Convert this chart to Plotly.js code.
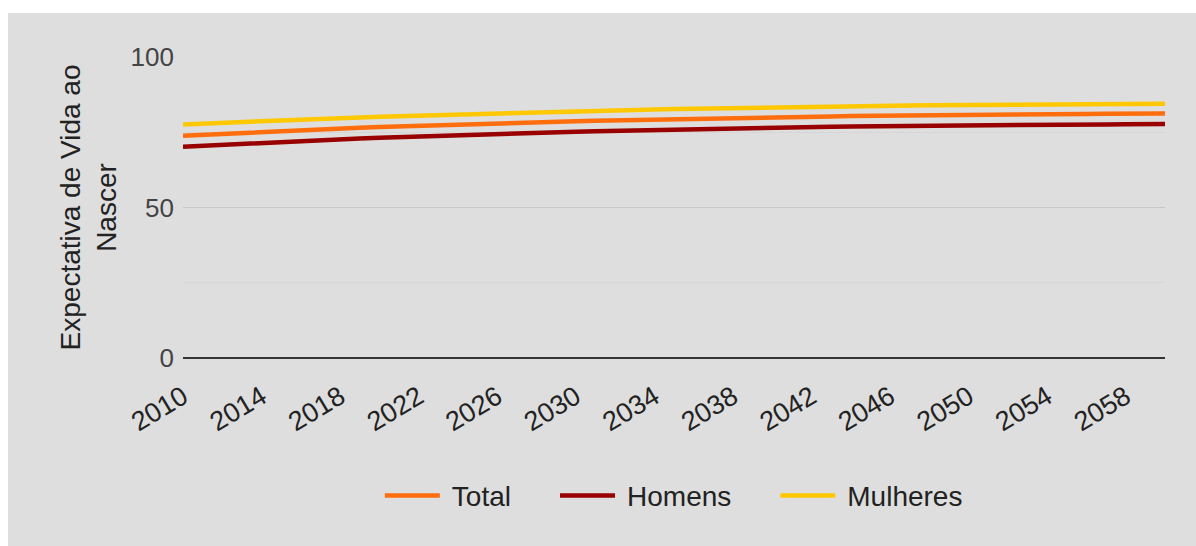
<!DOCTYPE html>
<html>
<head>
<meta charset="utf-8">
<script src="https://cdn.plot.ly/plotly-3.0.1.min.js"></script>
<style>
  html, body { margin: 0; padding: 0; background: #ffffff; }
  #chart { position: absolute; left: 8px; top: 13px; width: 1188px; height: 533px; }
</style>
</head>
<body>
<div id="chart"></div>
<script>
// Anos da projeção
const anos = [2010, 2011, 2012, 2013, 2014, 2015, 2016, 2017, 2018, 2019,
              2020, 2021, 2022, 2023, 2024, 2025, 2026, 2027, 2028, 2029,
              2030, 2031, 2032, 2033, 2034, 2035, 2036, 2037, 2038, 2039,
              2040, 2041, 2042, 2043, 2044, 2045, 2046, 2047, 2048, 2049,
              2050, 2051, 2052, 2053, 2054, 2055, 2056, 2057, 2058, 2059, 2060];

// Expectativa de vida ao nascer (anos)
const total = [73.86, 74.19, 74.52, 74.84, 75.14, 75.44, 75.72, 76.00, 76.25, 76.50,
               76.74, 76.97, 77.19, 77.40, 77.61, 77.80, 77.99, 78.17, 78.34, 78.51,
               78.67, 78.82, 78.97, 79.11, 79.25, 79.38, 79.51, 79.63, 79.75, 79.86,
               79.97, 80.07, 80.17, 80.27, 80.36, 80.45, 80.53, 80.61, 80.67, 80.73,
               80.79, 80.85, 80.90, 80.95, 81.00, 81.04, 81.08, 81.12, 81.15, 81.18, 81.21];

const homens = [70.21, 70.55, 70.89, 71.21, 71.52, 71.83, 72.12, 72.40, 72.67, 72.93,
                73.18, 73.42, 73.65, 73.87, 74.08, 74.29, 74.48, 74.67, 74.85, 75.03,
                75.20, 75.36, 75.51, 75.66, 75.81, 75.95, 76.08, 76.21, 76.33, 76.45,
                76.56, 76.67, 76.77, 76.86, 76.94, 77.02, 77.09, 77.16, 77.22, 77.28,
                77.33, 77.38, 77.43, 77.47, 77.51, 77.55, 77.58, 77.61, 77.64, 77.67, 77.70];

const mulheres = [77.60, 77.90, 78.19, 78.47, 78.74, 79.00, 79.25, 79.49, 79.72, 79.94,
                  80.15, 80.35, 80.55, 80.74, 80.92, 81.09, 81.26, 81.45, 81.63, 81.81,
                  81.98, 82.14, 82.29, 82.44, 82.58, 82.71, 82.84, 82.96, 83.08, 83.19,
                  83.30, 83.40, 83.50, 83.59, 83.68, 83.76, 83.84, 83.91, 83.98, 84.04,
                  84.10, 84.15, 84.20, 84.25, 84.29, 84.33, 84.37, 84.40, 84.43, 84.46, 84.49];

const yTicks = [0, 50, 100];
const font = 'Liberation Sans, Arial, sans-serif';

const series = [
  { name: 'Total',    y: total,    color: '#ff6d0d' },
  { name: 'Homens',   y: homens,   color: '#990000' },
  { name: 'Mulheres', y: mulheres, color: '#ffc800' }
];

const traces = series.map(s => ({
  type: 'scatter',
  mode: 'lines',
  name: s.name,
  x: anos,
  y: s.y,
  line: { color: s.color, width: 4.5 },
  hoverinfo: 'skip'
}));

// Legend swatch: a 55px line, with some lead-in space so entries sit apart
const SWATCH_START = 44;
const SWATCH_LEN = 55;

const layout = {
  width: 1188,
  height: 533,
  margin: { l: 175, r: 31, t: 44, b: 188 },
  paper_bgcolor: '#dedede',
  plot_bgcolor: '#dedede',
  font: { family: font, size: 26, color: '#222222' },
  showlegend: true,
  legend: {
    orientation: 'h',
    x: 0.48, xanchor: 'center',
    y: -0.458, yanchor: 'middle',
    itemwidth: SWATCH_START + SWATCH_LEN + 2,
    font: { size: 28, color: '#222222' },
    bgcolor: 'rgba(0,0,0,0)'
  },
  xaxis: {
    type: 'linear',
    range: [2010, 2060],
    tick0: 2010,
    dtick: 4,
    tickangle: -31,
    showgrid: false,
    zeroline: false,
    showline: false,
    ticks: '',
    ticklabelstandoff: 17,
    tickfont: { size: 27, color: '#222222' }
  },
  yaxis: {
    range: [0, 100],
    tickvals: yTicks,
    showgrid: true,
    gridcolor: '#c8c8c8',
    gridwidth: 1,
    minor: { tickvals: [25, 75], showgrid: true, gridcolor: '#d6d6d6', gridwidth: 1 },
    zeroline: true,
    zerolinecolor: '#333333',
    zerolinewidth: 1.5,
    showline: false,
    ticks: '',
    ticklabelstandoff: 8,
    tickfont: { size: 26, color: '#444444' },
    title: {
      text: 'Expectativa de Vida ao<br>Nascer',
      font: { size: 28, color: '#222222' },
      standoff: 5
    }
  }
};

Plotly.newPlot('chart', traces, layout, { displayModeBar: false, staticPlot: true })
  .then(gd => {
    // lengthen the legend swatch lines
    gd.querySelectorAll('.legend .legendlines path').forEach(p => {
      p.setAttribute('d', 'M' + SWATCH_START + ',0h' + SWATCH_LEN);
    });
  });
</script>
</body>
</html>
